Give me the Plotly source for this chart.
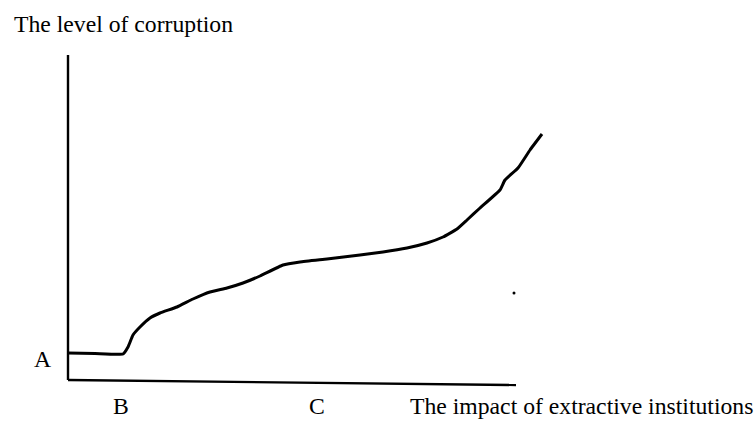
import plotly.graph_objects as go

# Curve: level of corruption vs impact of extractive institutions (arbitrary units)
curve_x = [0, 27, 55, 60, 65, 72, 82, 92, 109, 125, 142, 159, 175, 192, 215, 232, 259,
           292, 315, 339, 359, 375, 389, 399, 412, 432, 437, 450, 462, 474]
curve_y = [27, 26.5, 26, 33, 45, 53, 62, 67, 73, 81, 88, 92, 97, 104, 115, 118, 121,
           125, 128, 132, 137, 143, 151, 160, 172, 190, 200, 212, 230, 246]

# Axes drawn as lines (hand-drawn look)
yaxis_x = [0, 0]
yaxis_y = [0, 325]
xaxis_x = [0, 448]
xaxis_y = [0, -5]

dot_x = [446]
dot_y = [87]

labels = {
    "title_y": "The level of corruption",
    "A": "A",
    "B": "B",
    "C": "C",
    "title_x": "The impact of extractive institutions",
}

fig = go.Figure()
line_style = dict(color="black", width=2.4)
fig.add_trace(go.Scatter(x=yaxis_x, y=yaxis_y, mode="lines", line=line_style, hoverinfo="skip"))
fig.add_trace(go.Scatter(x=xaxis_x, y=xaxis_y, mode="lines", line=line_style, hoverinfo="skip"))
fig.add_trace(go.Scatter(x=curve_x, y=curve_y, mode="lines",
                         line=dict(color="black", width=3, shape="spline", smoothing=0.35),
                         hoverinfo="skip"))
fig.add_trace(go.Scatter(x=dot_x, y=dot_y, mode="markers",
                         marker=dict(color="black", size=3), hoverinfo="skip"))

font = dict(family="Liberation Serif, Times New Roman, serif", size=23.7, color="black")
ann = [
    dict(x=-56, y=356, text=labels["title_y"], xanchor="left", yanchor="middle"),
    dict(x=-26, y=21, text=labels["A"], xanchor="center", yanchor="middle"),
    dict(x=53, y=-26, text=labels["B"], xanchor="center", yanchor="middle"),
    dict(x=249, y=-26, text=labels["C"], xanchor="center", yanchor="middle"),
    dict(x=340, y=-26, text=labels["title_x"], xanchor="left", yanchor="middle"),
]
for a in ann:
    a.update(showarrow=False, font=font, xref="x", yref="y")

fig.update_layout(
    width=756, height=421,
    margin=dict(l=0, r=0, t=0, b=0),
    paper_bgcolor="white", plot_bgcolor="white",
    showlegend=False,
    xaxis=dict(range=[-68, 688], visible=False, fixedrange=True),
    yaxis=dict(range=[-41, 380], visible=False, fixedrange=True),
    annotations=ann,
)
fig.write_html("out.html", config={"displayModeBar": False},
               post_script="document.body.style.margin='0';document.body.style.overflow='hidden';")
